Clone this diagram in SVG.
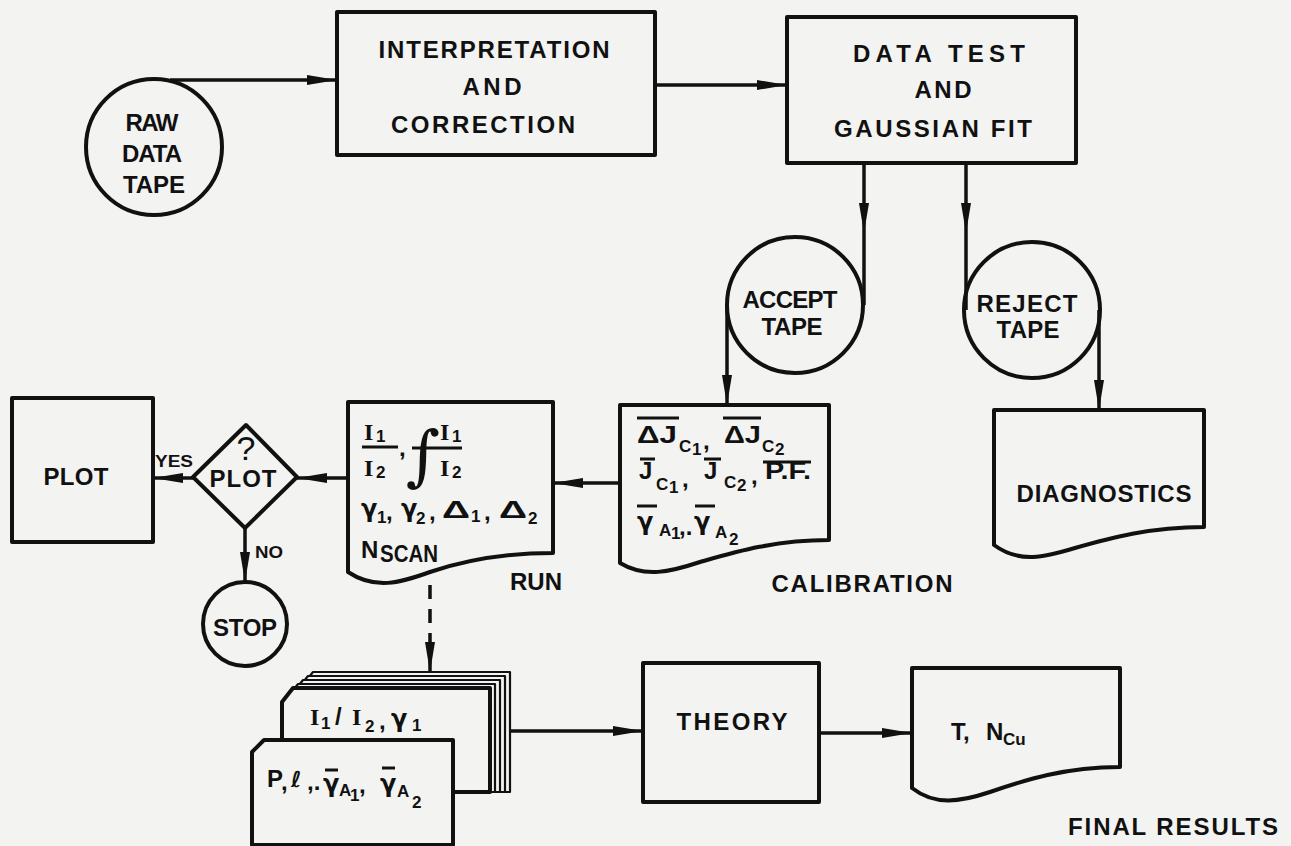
<svg xmlns="http://www.w3.org/2000/svg" width="1291" height="846" viewBox="0 0 1291 846">
<defs>
<style>
.bx{fill:none;stroke:#111;stroke-width:4;stroke-linejoin:round}
.fl{fill:#f3f3f1;stroke:#111;stroke-width:4;stroke-linejoin:round}
.fb{fill:#f3f3f1;stroke:#111;stroke-width:2.2;stroke-linejoin:round}
.cn{fill:none;stroke:#111;stroke-width:3.5}
.lb{font-family:"Liberation Sans",Arial,sans-serif;font-weight:bold;font-size:24px;text-anchor:middle;fill:#111}
.sm{font-family:"Liberation Sans",Arial,sans-serif;font-weight:bold;font-size:16px;text-anchor:middle;fill:#111}
.mt{font-family:"Liberation Sans","DejaVu Sans",sans-serif;font-weight:bold;font-size:24px;fill:#111}
.gm{font-family:"DejaVu Sans",sans-serif;font-weight:bold;font-size:24px;fill:#111}
.sb{font-family:"Liberation Sans","DejaVu Sans",sans-serif;font-weight:bold;font-size:17px;fill:#111}
.sr{font-family:"Liberation Serif","DejaVu Serif",serif;font-weight:bold;font-size:24px;fill:#111}
.ol{stroke:#111;stroke-width:3;fill:none}
</style>
<marker id="ah" viewBox="0 0 30 12" refX="30" refY="6" markerWidth="30" markerHeight="12" markerUnits="userSpaceOnUse" orient="auto">
<path d="M0,1 L30,6 L0,11 Z" fill="#111"/>
</marker>
</defs>
<rect x="0" y="0" width="1291" height="846" fill="#f3f3f1"/>

<g id="connectors">
<path class="cn" d="M170,80 H337" marker-end="url(#ah)"/>
<path class="cn" d="M655,85 H787" marker-end="url(#ah)"/>
<path class="cn" d="M864,163 V233 V305" marker-mid="url(#ah)"/>
<path class="cn" d="M966,163 V233 V310" marker-mid="url(#ah)"/>
<path class="cn" d="M727,305 V405" marker-end="url(#ah)"/>
<path class="cn" d="M1099,310 V410" marker-end="url(#ah)"/>
<path class="cn" d="M620,483 H553" marker-end="url(#ah)"/>
<path class="cn" d="M348,478 H297" marker-end="url(#ah)"/>
<path class="cn" d="M193,478 H153" marker-end="url(#ah)"/>
<path class="cn" d="M245,528 V582" marker-end="url(#ah)"/>
<path class="cn" d="M430,585 V672" stroke-dasharray="14 10" marker-end="url(#ah)"/>
<path class="cn" d="M510,731 H643" marker-end="url(#ah)"/>
<path class="cn" d="M819,733 H912" marker-end="url(#ah)"/>
<text class="sm" x="174" y="467" textLength="38" lengthAdjust="spacingAndGlyphs">YES</text>
<text class="sm" x="269" y="558" textLength="28" lengthAdjust="spacingAndGlyphs">NO</text>
</g>

<g id="raw-data-tape">
<circle class="bx" cx="154" cy="147" r="68"/>
<text class="lb" x="152" y="131" textLength="53">RAW</text>
<text class="lb" x="152" y="162" textLength="60">DATA</text>
<text class="lb" x="154" y="193" textLength="62">TAPE</text>
</g>

<g id="interpretation">
<rect class="bx" x="337" y="12" width="318" height="143"/>
<text class="lb" x="494" y="58" textLength="231">INTERPRETATION</text>
<text class="lb" x="492" y="95" textLength="59">AND</text>
<text class="lb" x="483" y="133" textLength="184">CORRECTION</text>
</g>

<g id="data-test">
<rect class="bx" x="787" y="17" width="289" height="146"/>
<text class="lb" x="939" y="62" textLength="172">DATA TEST</text>
<text class="lb" x="943" y="98" textLength="57">AND</text>
<text class="lb" x="933" y="137" textLength="198">GAUSSIAN FIT</text>
</g>

<g id="accept-tape">
<circle class="bx" cx="795" cy="305" r="68"/>
<text class="lb" x="790" y="308" textLength="95">ACCEPT</text>
<text class="lb" x="792" y="335" textLength="61">TAPE</text>
</g>

<g id="reject-tape">
<circle class="bx" cx="1032" cy="310" r="68"/>
<text class="lb" x="1027" y="312" textLength="101">REJECT</text>
<text class="lb" x="1028" y="338" textLength="63">TAPE</text>
</g>

<g id="calibration">
<path class="bx" d="M620,405 H829 V540 C775,540 735,552 700,562 C670,572 645,578 620,563 Z"/>
<line class="ol" x1="637" y1="418" x2="679" y2="418"/>
<text class="mt" x="637" y="443" textLength="40" lengthAdjust="spacingAndGlyphs">ΔJ</text>
<text class="sb" x="679" y="452">C</text>
<text class="sb" x="692" y="455" font-size="15">1</text>
<text class="mt" x="703" y="449">,</text>
<line class="ol" x1="723" y1="418" x2="761" y2="418"/>
<text class="mt" x="724" y="443" textLength="37" lengthAdjust="spacingAndGlyphs">ΔJ</text>
<text class="sb" x="762" y="452">C</text>
<text class="sb" x="775" y="455" font-size="15">2</text>
<line class="ol" x1="640" y1="459" x2="655" y2="459"/>
<text class="mt" x="639" y="479">J</text>
<text class="sb" x="656" y="490">C</text>
<text class="sb" x="669" y="493" font-size="15">1</text>
<text class="mt" x="682" y="487">,</text>
<line class="ol" x1="704" y1="459" x2="721" y2="459"/>
<text class="mt" x="704" y="479">J</text>
<text class="sb" x="724" y="488">C</text>
<text class="sb" x="737" y="491" font-size="15">2</text>
<text class="mt" x="751" y="484">,</text>
<line class="ol" x1="763" y1="462" x2="811" y2="462"/>
<text class="mt" x="765" y="479" textLength="46" lengthAdjust="spacingAndGlyphs">P.F.</text>
<line class="ol" x1="637" y1="506" x2="657" y2="506"/>
<text class="gm" x="637" y="530">γ</text>
<text class="sb" x="659" y="536">A</text>
<text class="sb" x="671" y="539" font-size="15">1</text>
<text class="mt" x="679" y="535">,.</text>
<line class="ol" x1="695" y1="506" x2="715" y2="506"/>
<text class="gm" x="694" y="530">γ</text>
<text class="sb" x="715" y="538">A</text>
<text class="sb" x="729" y="545">2</text>
<text class="lb" x="862" y="592" textLength="181">CALIBRATION</text>
</g>

<g id="diagnostics">
<path class="bx" d="M994,410 H1204 V527 C1150,527 1110,538 1075,548 C1045,557 1020,564 994,545 Z"/>
<text class="lb" x="1104" y="502" textLength="175">DIAGNOSTICS</text>
</g>

<g id="run">
<path class="bx" d="M348,402 H553 V553 C500,553 460,562 430,572 C400,583 375,590 348,572 Z"/>
<text class="sr" x="364" y="440">I</text>
<text class="sb" x="376" y="442" font-size="15">1</text>
<line class="ol" x1="362" y1="447" x2="398" y2="447"/>
<text class="sr" x="364" y="476">I</text>
<text class="sb" x="376" y="478">2</text>
<text class="mt" x="399" y="456">,</text>
<text x="423" y="478" font-family="DejaVu Serif, serif" font-size="66" text-anchor="middle" fill="#111">∫</text>
<line class="ol" x1="412" y1="448" x2="462" y2="448"/>
<text class="sr" x="440" y="440">I</text>
<text class="sb" x="452" y="442" font-size="15">1</text>
<text class="sr" x="440" y="476">I</text>
<text class="sb" x="452" y="478">2</text>
<text class="gm" x="361" y="517">γ</text>
<text class="sb" x="377" y="523" font-size="15">1</text>
<text class="mt" x="386" y="520">,</text>
<text class="gm" x="401" y="517">γ</text>
<text class="sb" x="416" y="524">2</text>
<text class="mt" x="429" y="520">,</text>
<text class="mt" x="442" y="518" font-size="26" textLength="28" lengthAdjust="spacingAndGlyphs">Δ</text>
<text class="sb" x="471" y="522" font-size="15">1</text>
<text class="mt" x="484" y="520">,</text>
<text class="mt" x="499" y="518" font-size="26" textLength="28" lengthAdjust="spacingAndGlyphs">Δ</text>
<text class="sb" x="528" y="524">2</text>
<text class="mt" x="361" y="558" font-size="26">N</text>
<text class="mt" x="380" y="562" font-size="18" textLength="58" lengthAdjust="spacingAndGlyphs">SCAN</text>
<text class="lb" x="536" y="590" textLength="52">RUN</text>
</g>

<g id="plot-decision">
<polygon class="bx" points="246,425 297,477 245,528 193,477"/>
<text x="246" y="460" font-family="Liberation Sans, Arial, sans-serif" font-size="34" text-anchor="middle" fill="#111">?</text>
<text class="lb" x="243" y="487" font-size="21" textLength="67">PLOT</text>
</g>

<g id="plot">
<rect class="bx" x="12" y="398" width="141" height="144"/>
<text class="lb" x="76" y="485" font-size="21" textLength="65">PLOT</text>
</g>

<g id="stop">
<circle class="bx" cx="245" cy="624" r="42"/>
<text class="lb" x="245" y="636" font-size="22" textLength="64">STOP</text>
</g>

<g id="card-deck">
<path class="fb" d="M302,686 L313,672 H510 V792 H302 Z"/>
<path class="fb" d="M297,690 L308,676 H505 V792 H297 Z"/>
<path class="fb" d="M292,694 L303,680 H500 V792 H292 Z"/>
<path class="fb" d="M287,698 L298,684 H495 V792 H287 Z"/>
<path class="fl" d="M282,702 L293,688 H490 V792 H282 Z"/>
<text class="sr" x="310" y="725" font-size="22">I</text>
<text class="sb" x="321" y="729" font-size="15">1</text>
<text class="mt" x="335" y="725" font-size="22">/</text>
<text class="sr" x="352" y="725" font-size="22">I</text>
<text class="sb" x="365" y="732">2</text>
<text class="mt" x="379" y="729">,</text>
<text class="gm" x="391" y="727">γ</text>
<text class="sb" x="412" y="731" font-size="15">1</text>
<path class="fl" d="M252,752 L264,740 H453 V845 H252 Z"/>
<text class="mt" x="267" y="787" font-size="20">P</text>
<text class="mt" x="281" y="790">,</text>
<text x="291" y="787" font-family="DejaVu Sans, sans-serif" font-weight="bold" font-size="22" fill="#111">ℓ</text>
<text class="mt" x="307" y="790">,.</text>
<line class="ol" x1="325" y1="770" x2="338" y2="770"/>
<text class="gm" x="323" y="792" font-size="22">γ</text>
<text class="sb" x="339" y="796" font-size="15">A</text>
<text class="sb" x="350" y="801" font-size="14">1</text>
<text class="mt" x="359" y="793">,</text>
<line class="ol" x1="382" y1="768" x2="395" y2="768"/>
<text class="gm" x="380" y="792" font-size="22">γ</text>
<text class="sb" x="397" y="797" font-size="15">A</text>
<text class="sb" x="412" y="808">2</text>
</g>

<g id="theory">
<rect class="bx" x="643" y="663" width="176" height="139"/>
<text class="lb" x="732" y="730" textLength="111">THEORY</text>
</g>

<g id="final-results">
<path class="bx" d="M912,668 H1120 V767 C1065,767 1025,780 990,792 C960,802 935,806 912,788 Z"/>
<text class="mt" x="951" y="740" font-size="20">T,</text>
<text class="mt" x="986" y="740" font-size="20">N</text>
<text class="sb" x="1003" y="745" font-size="18">Cu</text>
<text class="lb" x="1173" y="835" textLength="210">FINAL RESULTS</text>
</g>
</svg>
